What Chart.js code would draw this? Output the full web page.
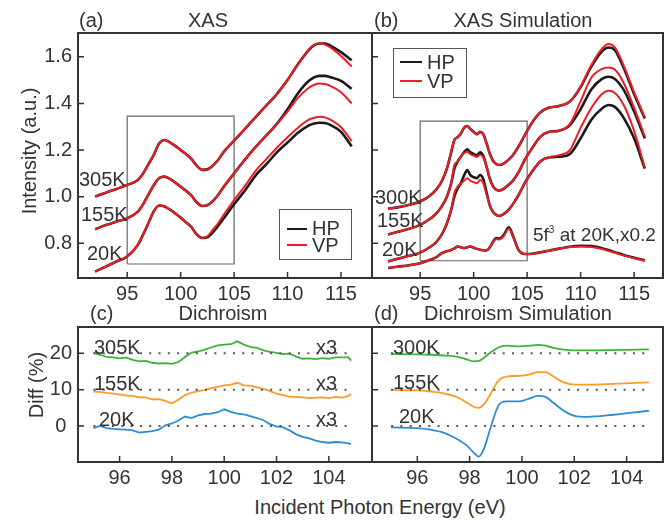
<!DOCTYPE html>
<html><head><meta charset="utf-8">
<script src="https://cdn.jsdelivr.net/npm/chart.js@4.4.1/dist/chart.umd.min.js"></script>
<style>
body{margin:0;width:665px;height:522px;background:#fff;position:relative;overflow:hidden;font-family:"Liberation Sans",Arial,sans-serif;color:#333}
canvas{position:absolute}
.t{position:absolute;font-size:20px;line-height:20px;white-space:nowrap;color:#333}
.c{transform:translateX(-50%)}
.box{position:absolute;border:1px solid #555;box-sizing:border-box}
.ln{position:absolute;height:2px}
sup{font-size:10px;line-height:0;vertical-align:8px}
</style></head><body>
<canvas id="ca" width="375" height="300" style="left:0;top:0"></canvas>
<canvas id="cb" width="305" height="300" style="left:360px;top:0"></canvas>
<canvas id="cc" width="375" height="190" style="left:0;top:300px"></canvas>
<canvas id="cd" width="305" height="190" style="left:360px;top:300px"></canvas>

<div class="t" style="left:79px;top:10px">(a)</div>
<div class="t c" style="left:208px;top:10px">XAS</div>
<div class="t" style="left:374px;top:10px">(b)</div>
<div class="t c" style="left:523px;top:10px">XAS Simulation</div>
<div class="t" style="left:90px;top:303px">(c)</div>
<div class="t c" style="left:223px;top:303px">Dichroism</div>
<div class="t" style="left:374px;top:303px">(d)</div>
<div class="t c" style="left:518px;top:303px">Dichroism Simulation</div>
<div class="t" style="left:29px;top:151px;transform:translate(-50%,-50%) rotate(-90deg)">Intensity (a.u.)</div>
<div class="t" style="left:36px;top:385px;transform:translate(-50%,-50%) rotate(-90deg)">Diff (%)</div>
<div class="t c" style="left:380px;top:497px">Incident Photon Energy (eV)</div>

<div class="t" style="left:79px;top:169px">305K</div>
<div class="t" style="left:81px;top:204px">155K</div>
<div class="t" style="left:87px;top:243px">20K</div>
<div class="box" style="left:279px;top:209px;width:73px;height:51px"></div>
<div class="ln" style="left:287px;top:228px;width:20px;background:#1a1a1a"></div>
<div class="t" style="left:312px;top:218px">HP</div>
<div class="ln" style="left:287px;top:244px;width:20px;background:#ee1c24"></div>
<div class="t" style="left:312px;top:235px">VP</div>

<div class="t" style="left:375px;top:187px">300K</div>
<div class="t" style="left:377px;top:210px">155K</div>
<div class="t" style="left:382px;top:239px">20K</div>
<div class="t" style="left:533px;top:225px;font-size:19px">5f<sup>3</sup> at 20K,x0.2</div>
<div class="box" style="left:393px;top:48px;width:74px;height:50px"></div>
<div class="ln" style="left:400px;top:61px;width:22px;background:#1a1a1a"></div>
<div class="t" style="left:427px;top:52px">HP</div>
<div class="ln" style="left:400px;top:80px;width:22px;background:#ee1c24"></div>
<div class="t" style="left:427px;top:71px">VP</div>

<div class="t" style="left:94px;top:337px">305K</div>
<div class="t" style="left:94px;top:373px">155K</div>
<div class="t" style="left:99px;top:409px">20K</div>
<div class="t" style="left:316px;top:337px">x3</div>
<div class="t" style="left:316px;top:373px">x3</div>
<div class="t" style="left:316px;top:409px">x3</div>

<div class="t" style="left:393px;top:337px">300K</div>
<div class="t" style="left:393px;top:372px">155K</div>
<div class="t" style="left:399px;top:406px">20K</div>

<script>
// ---------- tick labels ----------
const ticksXA = [95, 100, 105, 110, 115];
const ticksYA = [0.8, 1.0, 1.2, 1.4, 1.6];
const ticksXC = [96, 98, 100, 102, 104];
const ticksYC = [0, 10, 20];

// ---------- panel (a) XAS ----------
const eA = [92, 93, 94, 95, 96, 96.5, 97, 97.5, 98, 98.5, 99, 99.5, 100, 100.5, 101, 101.5, 102, 102.5, 103, 103.5, 104, 105, 106, 107, 108, 109, 110, 111, 112, 112.5, 113, 113.5, 114, 115, 116];
const a305HP = [1.000, 1.017, 1.033, 1.050, 1.071, 1.100, 1.140, 1.180, 1.229, 1.243, 1.233, 1.218, 1.200, 1.183, 1.162, 1.133, 1.115, 1.117, 1.133, 1.157, 1.190, 1.240, 1.290, 1.340, 1.390, 1.440, 1.500, 1.570, 1.630, 1.650, 1.657, 1.657, 1.648, 1.620, 1.585];
const a305VP = [1.000, 1.017, 1.033, 1.050, 1.071, 1.100, 1.140, 1.180, 1.229, 1.243, 1.233, 1.218, 1.200, 1.183, 1.162, 1.133, 1.115, 1.117, 1.133, 1.157, 1.190, 1.240, 1.290, 1.340, 1.390, 1.440, 1.500, 1.570, 1.632, 1.652, 1.658, 1.652, 1.640, 1.603, 1.558];
const a155HP = [0.860, 0.878, 0.893, 0.907, 0.936, 0.968, 1.010, 1.050, 1.080, 1.086, 1.076, 1.060, 1.043, 1.025, 1.005, 0.976, 0.960, 0.963, 0.980, 1.007, 1.040, 1.100, 1.158, 1.212, 1.262, 1.312, 1.375, 1.445, 1.497, 1.512, 1.518, 1.518, 1.512, 1.497, 1.463];
const a155VP = [0.860, 0.878, 0.893, 0.907, 0.936, 0.968, 1.010, 1.050, 1.080, 1.086, 1.076, 1.060, 1.043, 1.025, 1.005, 0.976, 0.960, 0.963, 0.980, 1.007, 1.040, 1.100, 1.158, 1.212, 1.262, 1.312, 1.365, 1.425, 1.467, 1.480, 1.485, 1.483, 1.475, 1.448, 1.400];
const a20HP = [0.679, 0.700, 0.722, 0.743, 0.793, 0.838, 0.888, 0.938, 0.962, 0.958, 0.944, 0.928, 0.910, 0.890, 0.870, 0.838, 0.823, 0.826, 0.846, 0.874, 0.905, 0.968, 1.025, 1.090, 1.138, 1.190, 1.232, 1.275, 1.306, 1.314, 1.317, 1.316, 1.308, 1.278, 1.215];
const a20VP = [0.679, 0.700, 0.722, 0.743, 0.793, 0.838, 0.888, 0.938, 0.962, 0.958, 0.944, 0.928, 0.910, 0.890, 0.870, 0.838, 0.823, 0.830, 0.857, 0.886, 0.920, 0.985, 1.045, 1.110, 1.160, 1.210, 1.255, 1.297, 1.330, 1.338, 1.343, 1.340, 1.330, 1.298, 1.238];
const boxAx = [95, 105];
const boxAy = [0.711, 1.345];

// ---------- panel (b) XAS simulation ----------
const eB = [92, 93, 94, 95, 96, 96.5, 97, 97.5, 97.9, 98.2, 98.5, 98.8, 99.1, 99.4, 99.7, 100.0, 100.3, 100.6, 100.9, 101.2, 101.5, 101.8, 102.1, 102.4, 102.8, 103.3, 103.7, 104.2, 104.8, 105.5, 106.2, 107, 108, 109, 110, 111, 112, 112.6, 113.2, 114, 115, 116];
const b300HP = [0.948, 0.955, 0.965, 0.979, 1.007, 1.030, 1.064, 1.120, 1.190, 1.243, 1.255, 1.270, 1.295, 1.303, 1.290, 1.278, 1.268, 1.278, 1.268, 1.230, 1.186, 1.155, 1.140, 1.136, 1.142, 1.160, 1.180, 1.215, 1.265, 1.320, 1.360, 1.381, 1.389, 1.408, 1.470, 1.558, 1.623, 1.640, 1.628, 1.555, 1.440, 1.335];
const b300VP = [0.948, 0.955, 0.965, 0.979, 1.007, 1.030, 1.064, 1.120, 1.190, 1.243, 1.255, 1.270, 1.295, 1.303, 1.290, 1.278, 1.268, 1.278, 1.268, 1.230, 1.186, 1.155, 1.140, 1.136, 1.142, 1.160, 1.180, 1.215, 1.265, 1.320, 1.360, 1.381, 1.389, 1.408, 1.472, 1.565, 1.635, 1.655, 1.640, 1.565, 1.448, 1.340];
const b155HP = [0.838, 0.850, 0.862, 0.879, 0.907, 0.927, 0.957, 1.000, 1.057, 1.120, 1.150, 1.171, 1.190, 1.203, 1.190, 1.183, 1.178, 1.190, 1.175, 1.130, 1.079, 1.045, 1.030, 1.026, 1.033, 1.052, 1.070, 1.105, 1.160, 1.210, 1.255, 1.277, 1.283, 1.307, 1.375, 1.460, 1.505, 1.514, 1.505, 1.460, 1.365, 1.250];
const b155VP = [0.838, 0.850, 0.862, 0.879, 0.907, 0.927, 0.957, 1.000, 1.057, 1.135, 1.150, 1.171, 1.186, 1.193, 1.182, 1.176, 1.170, 1.180, 1.168, 1.130, 1.079, 1.045, 1.030, 1.026, 1.033, 1.052, 1.070, 1.105, 1.160, 1.210, 1.255, 1.277, 1.283, 1.312, 1.410, 1.510, 1.548, 1.554, 1.545, 1.490, 1.382, 1.258];
const b20HP = [0.722, 0.735, 0.746, 0.760, 0.786, 0.805, 0.836, 0.885, 0.943, 1.000, 1.035, 1.057, 1.090, 1.114, 1.092, 1.083, 1.079, 1.093, 1.075, 1.020, 0.964, 0.935, 0.922, 0.917, 0.925, 0.945, 0.970, 1.007, 1.060, 1.110, 1.150, 1.168, 1.171, 1.183, 1.250, 1.330, 1.378, 1.393, 1.385, 1.340, 1.250, 1.120];
const b20VP = [0.722, 0.735, 0.746, 0.760, 0.786, 0.805, 0.836, 0.885, 0.943, 1.015, 1.043, 1.055, 1.068, 1.079, 1.068, 1.062, 1.057, 1.071, 1.058, 1.010, 0.964, 0.935, 0.922, 0.917, 0.925, 0.945, 0.970, 1.007, 1.060, 1.110, 1.150, 1.168, 1.178, 1.200, 1.295, 1.380, 1.440, 1.454, 1.445, 1.395, 1.282, 1.125];
const b5fHP = [0.694, 0.700, 0.706, 0.714, 0.730, 0.740, 0.757, 0.766, 0.771, 0.778, 0.786, 0.783, 0.779, 0.783, 0.786, 0.781, 0.776, 0.772, 0.770, 0.769, 0.782, 0.805, 0.822, 0.820, 0.835, 0.869, 0.829, 0.771, 0.754, 0.755, 0.761, 0.768, 0.777, 0.785, 0.789, 0.788, 0.779, 0.771, 0.762, 0.750, 0.738, 0.727];
const b5fVP = [0.694, 0.700, 0.706, 0.714, 0.730, 0.740, 0.757, 0.766, 0.771, 0.778, 0.786, 0.783, 0.779, 0.783, 0.786, 0.781, 0.776, 0.772, 0.770, 0.769, 0.782, 0.803, 0.818, 0.816, 0.830, 0.862, 0.826, 0.771, 0.754, 0.755, 0.761, 0.768, 0.777, 0.784, 0.786, 0.784, 0.775, 0.767, 0.759, 0.748, 0.736, 0.725];
const boxBx = [95, 105];
const boxBy = [0.725, 1.324];

// ---------- panel (c) dichroism ----------
const eC = [95, 95.25, 95.5, 95.75, 96, 96.25, 96.5, 96.75, 97, 97.25, 97.5, 97.75, 98, 98.25, 98.5, 98.75, 99, 99.25, 99.5, 99.75, 100, 100.25, 100.5, 100.75, 101, 101.25, 101.5, 101.75, 102, 102.25, 102.5, 102.75, 103, 103.25, 103.5, 103.75, 104, 104.25, 104.5, 104.75, 104.85];
const c305 = [20.1, 19.6, 19.0, 18.9, 18.6, 18.8, 18.2, 17.8, 17.9, 17.4, 17.2, 17.3, 17.1, 17.6, 19.0, 20.2, 20.5, 21.0, 21.6, 22.2, 22.4, 22.5, 23.3, 22.4, 21.8, 21.5, 20.8, 20.4, 20.1, 19.8, 19.9, 19.1, 18.5, 18.6, 18.4, 18.7, 18.5, 18.9, 18.9, 18.9, 18.0];
const c155 = [9.5, 9.4, 9.1, 8.9, 8.7, 8.4, 8.3, 7.9, 7.9, 7.3, 7.4, 6.9, 6.2, 7.3, 8.5, 9.2, 9.6, 9.9, 10.4, 10.8, 11.2, 11.4, 11.9, 11.2, 11.1, 10.6, 10.2, 9.6, 8.9, 8.5, 8.1, 8.0, 7.9, 7.7, 7.8, 7.9, 7.7, 8.0, 7.8, 8.3, 8.8];
const c20 = [-0.6, 0.0, -0.6, -0.8, -0.9, -1.0, -1.2, -1.8, -1.6, -1.4, -1.0, 0.2, 0.7, 1.5, 2.6, 2.2, 2.9, 3.3, 3.4, 3.8, 4.6, 3.9, 3.4, 3.2, 2.7, 2.2, 1.6, 0.5, -0.1, -0.4, -1.2, -2.3, -3.0, -3.4, -4.0, -4.4, -4.6, -4.4, -4.5, -4.8, -5.0];

// ---------- panel (d) dichroism simulation ----------
const eD = [95, 96, 96.5, 97, 97.5, 97.9, 98.15, 98.35, 98.55, 98.8, 99.1, 99.4, 99.9, 100.3, 100.6, 100.9, 101.2, 101.6, 102, 102.5, 103.5, 104.85];
const d300 = [19.8, 19.7, 19.6, 19.4, 19.1, 18.3, 17.8, 17.9, 18.8, 20.2, 21.6, 22.1, 21.9, 22.1, 22.3, 22.1, 21.5, 21.0, 20.8, 20.8, 20.9, 21.1];
const d155 = [9.9, 9.8, 9.5, 9.0, 8.0, 6.4, 5.3, 5.0, 6.0, 8.8, 12.5, 13.6, 13.8, 14.2, 14.8, 14.8, 13.6, 12.0, 11.4, 11.4, 11.6, 12.0];
const d20 = [-0.4, -0.6, -1.0, -1.8, -3.5, -5.4, -7.3, -8.4, -6.2, -0.5, 5.6, 6.8, 6.8, 7.6, 8.3, 8.0, 6.4, 4.2, 2.8, 2.5, 3.1, 4.2];

const diffOffsets = [0, 10, 20];
const dotRange = [95, 104.85];

// ---------- helpers ----------
Chart.defaults.font.family = '"Liberation Sans", Arial, sans-serif';
Chart.defaults.font.size = 20;
Chart.defaults.color = '#333';

const BLACK = '#1a1a1a', RED = '#ee1c24', GREEN = '#3cb23c', ORANGE = '#fd9a28', BLUE = '#2d8dd4';

function pts(xs, ys) { return xs.map((x, i) => ({x: x, y: ys[i]})); }
function line(xs, ys, color, w, smooth) {
  return {data: pts(xs, ys), borderColor: color, borderWidth: w, pointRadius: 0,
          cubicInterpolationMode: smooth ? 'monotone' : 'default', tension: smooth ? 0.4 : 0, fill: false};
}
function rect(bx, by) {
  return {data: [{x: bx[0], y: by[0]}, {x: bx[1], y: by[0]}, {x: bx[1], y: by[1]}, {x: bx[0], y: by[1]}, {x: bx[0], y: by[0]}],
          borderColor: '#666', borderWidth: 1.2, pointRadius: 0, tension: 0, fill: false};
}
function dotted(v) {
  return {data: [{x: dotRange[0], y: v}, {x: dotRange[1], y: v}], borderColor: '#555', borderWidth: 2,
          borderDash: [2, 7.3], pointRadius: 0, tension: 0, fill: false};
}

const framePlugin = {
  id: 'frame',
  afterDraw(chart) {
    const ctx = chart.ctx, a = chart.chartArea, x = chart.scales.x, y = chart.scales.y;
    ctx.save();
    ctx.strokeStyle = '#333';
    ctx.lineWidth = 1.5;
    ctx.beginPath();
    x.ticks.forEach(t => { const p = x.getPixelForValue(t.value); ctx.moveTo(p, a.bottom); ctx.lineTo(p, a.bottom - 6); });
    y.ticks.forEach(t => { const p = y.getPixelForValue(t.value); ctx.moveTo(a.left, p); ctx.lineTo(a.left + 6, p); });
    ctx.stroke();
    ctx.lineWidth = 2;
    ctx.strokeRect(a.left, a.top, a.right - a.left, a.bottom - a.top);
    ctx.restore();
  }
};

function make(id, datasets, cfg) {
  new Chart(document.getElementById(id), {
    type: 'line',
    data: {datasets: datasets},
    options: {
      responsive: false, animation: false,
      layout: {padding: {top: cfg.padTop, right: cfg.padRight, left: 0, bottom: 0}},
      plugins: {legend: {display: false}, tooltip: {enabled: false}},
      scales: {
        x: {type: 'linear', min: cfg.xr[0], max: cfg.xr[1],
            afterBuildTicks: s => { s.ticks = cfg.xt.map(v => ({value: v})); },
            afterFit: s => { s.height = cfg.xH; },
            grid: {display: false, drawTicks: false}, border: {display: false},
            ticks: {padding: 4, maxRotation: 0, autoSkip: false, color: '#333', callback: v => String(v)}},
        y: {type: 'linear', min: cfg.yr[0], max: cfg.yr[1],
            afterBuildTicks: s => { s.ticks = cfg.yt.map(v => ({value: v})); },
            afterFit: s => { s.width = cfg.yW; },
            grid: {display: false, drawTicks: false}, border: {display: false},
            ticks: {display: cfg.showY, padding: 6, crossAlign: 'center', autoSkip: false, color: '#333', callback: cfg.yFmt}}
      }
    },
    plugins: [framePlugin]
  });
}

const fmt1 = v => Number(v).toFixed(1);
const fmt0 = v => String(v);

// note: in Chart.js the first dataset is painted on top
make('ca', [
  line(eA, a305VP, RED, 2, true), line(eA, a155VP, RED, 2, true), line(eA, a20VP, RED, 2, true),
  line(eA, a305HP, BLACK, 2.6, true), line(eA, a155HP, BLACK, 2.6, true), line(eA, a20HP, BLACK, 2.6, true),
  rect(boxAx, boxAy)
], {xr: [90.4, 117.9], yr: [0.651, 1.702], xt: ticksXA, yt: ticksYA, showY: true, yW: 78, xH: 22, padTop: 33, padRight: 3, yFmt: fmt1});

make('cb', [
  line(eB, b300VP, RED, 2, true), line(eB, b155VP, RED, 2, true), line(eB, b20VP, RED, 2, true), line(eB, b5fVP, RED, 2, true),
  line(eB, b300HP, BLACK, 2.6, true), line(eB, b155HP, BLACK, 2.6, true), line(eB, b20HP, BLACK, 2.6, true), line(eB, b5fHP, BLACK, 2.6, true),
  rect(boxBx, boxBy)
], {xr: [90.5, 117.7], yr: [0.651, 1.702], xt: ticksXA, yt: ticksYA, showY: false, yW: 12, xH: 22, padTop: 33, padRight: 2, yFmt: fmt1});

make('cc', [
  dotted(diffOffsets[0]), dotted(diffOffsets[1]), dotted(diffOffsets[2]),
  line(eC, c305, GREEN, 1.8, false), line(eC, c155, ORANGE, 1.8, false), line(eC, c20, BLUE, 1.8, false)
], {xr: [94.41, 105.65], yr: [-9.9, 27.24], xt: ticksXC, yt: ticksYC, showY: true, yW: 78, xH: 28, padTop: 27, padRight: 3, yFmt: fmt0});

make('cd', [
  dotted(diffOffsets[0]), dotted(diffOffsets[1]), dotted(diffOffsets[2]),
  line(eD, d300, GREEN, 1.8, true), line(eD, d155, ORANGE, 1.8, true), line(eD, d20, BLUE, 1.8, true)
], {xr: [94.27, 105.39], yr: [-9.9, 27.24], xt: ticksXC, yt: ticksYC, showY: false, yW: 12, xH: 28, padTop: 27, padRight: 2, yFmt: fmt0});
</script>
</body></html>
